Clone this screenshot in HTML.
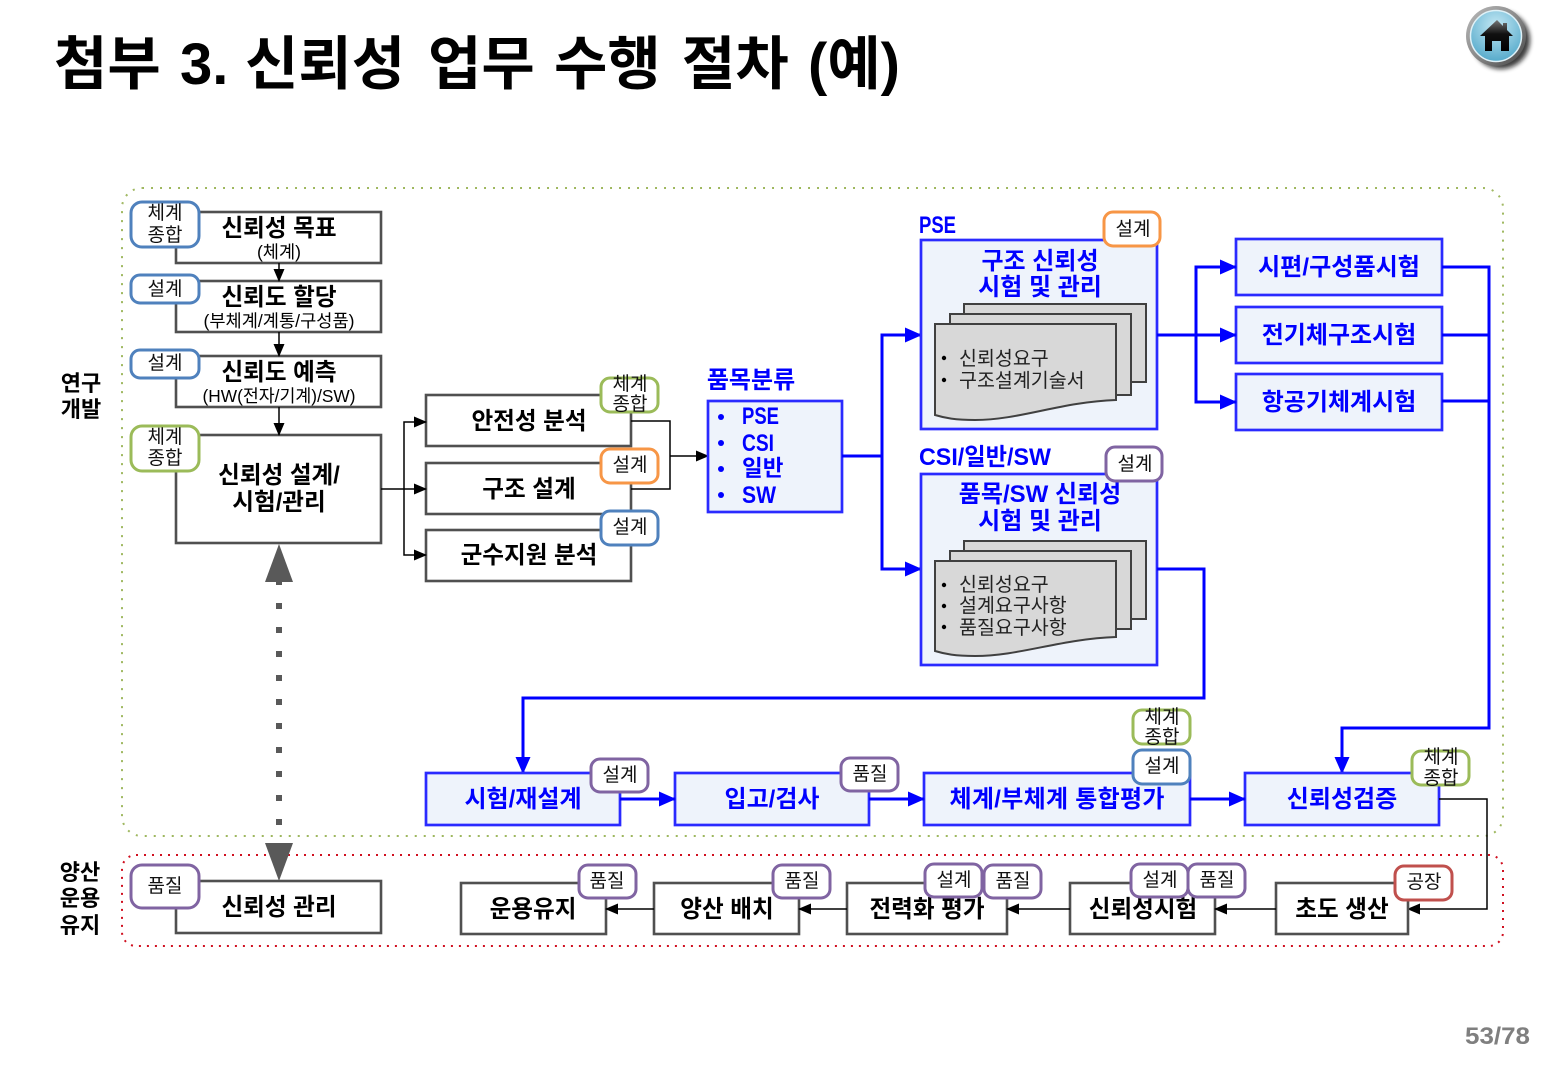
<!DOCTYPE html>
<html lang="ko"><head><meta charset="utf-8"><title>첨부 3</title>
<style>
html,body{margin:0;padding:0;background:#fff}
svg{display:block}
text{font-family:"Liberation Sans","Noto Sans CJK KR",sans-serif;text-anchor:middle;fill:#000}
.b{font-weight:700}
.t{font-size:23.6px;font-weight:700;transform:translateY(1px)}
.s{font-size:17.6px;transform:translateY(1px)}
.bl{fill:#0000ff;font-weight:700;font-size:24px;transform:translateY(1px)}
.tag{font-size:19px;fill:#111}
.box{fill:#fff;stroke:#505050;stroke-width:2.6}
.bbox{fill:#eef3fb;stroke:#2a2aff;stroke-width:2.7}
.doc{fill:#d8d8d8;stroke:#404040;stroke-width:2}
.k{stroke:#000;stroke-width:1.5;fill:none}
.u{stroke:#0000ff;stroke-width:3;fill:none}
.tb{fill:#fff;stroke-width:3}
.d{font-size:19.5px;text-anchor:start;fill:#222;transform:translateY(1px)}
.ttl{font-size:58px;font-weight:700;text-anchor:start}
.st{text-anchor:start}
</style></head><body>
<svg width="1545" height="1070" viewBox="0 0 1545 1070" xmlns="http://www.w3.org/2000/svg">
<defs>
<marker id="ka" markerWidth="13" markerHeight="11" refX="12" refY="5.5" orient="auto" markerUnits="userSpaceOnUse"><path d="M0 0L13 5.5L0 11z" fill="#000"/></marker>
<marker id="ua" markerWidth="17" markerHeight="15" refX="16" refY="7.5" orient="auto" markerUnits="userSpaceOnUse"><path d="M0 0L17 7.5L0 15z" fill="#00f"/></marker>
<radialGradient id="g" cx="50%" cy="30%" r="75%"><stop offset="0" stop-color="#c4e8f4"/><stop offset="1" stop-color="#4ea6c8"/></radialGradient>
<linearGradient id="h" x1="0" y1="0" x2="0" y2="1"><stop offset="0" stop-color="#777"/><stop offset=".45" stop-color="#111"/><stop offset="1" stop-color="#000"/></linearGradient>
<linearGradient id="r" x1="0" y1="0" x2="1" y2="1"><stop offset="0" stop-color="#bbb"/><stop offset=".5" stop-color="#8a8a8a"/><stop offset="1" stop-color="#444"/></linearGradient>
<filter id="bl" x="-30%" y="-30%" width="160%" height="160%"><feGaussianBlur stdDeviation="2.5"/></filter>
</defs>
<text y="84" class="ttl"><tspan x="54">첨부</tspan><tspan x="180">3.</tspan><tspan x="245">신뢰성</tspan><tspan x="428">업무</tspan><tspan x="554">수행</tspan><tspan x="682">절차</tspan><tspan x="808">(예)</tspan></text>

<circle cx="1501" cy="40" r="29" fill="#111" opacity=".8" filter="url(#bl)"/>
<circle cx="1496" cy="36" r="30" fill="url(#r)"/>
<circle cx="1496" cy="36" r="25.5" fill="url(#g)" stroke="#dff1f7" stroke-width="1.5"/>
<path d="M1480 36L1497 20L1503 26V23H1507V30L1513 36H1509V51H1501V41H1492V51H1485V36z" fill="url(#h)"/>

<rect x="122" y="188" width="1381" height="648" rx="20" fill="none" stroke="#9bbb59" stroke-width="2" stroke-dasharray="2 7"/>
<rect x="122" y="188" width="1381" height="648" rx="20" fill="none" stroke="#b8a888" stroke-width="1" stroke-dasharray="1 8" opacity=".6"/>
<rect x="122" y="855" width="1381" height="91" rx="14" fill="none" stroke="#d01020" stroke-width="2" stroke-dasharray="2 6"/>

<text x="81" y="390" class="t" style="font-size:22px">연구</text>
<text x="81" y="416" class="t" style="font-size:22px">개발</text>
<text x="80" y="879" class="t" style="font-size:22px">양산</text>
<text x="80" y="905" class="t" style="font-size:22px">운용</text>
<text x="80" y="932" class="t" style="font-size:22px">유지</text>

<!-- left column -->
<rect x="176" y="212" width="205" height="51" class="box"/>
<text x="279" y="235" class="t">신뢰성 목표</text>
<text x="279" y="257" class="s">(체계)</text>
<rect x="176" y="281" width="205" height="51" class="box"/>
<text x="279" y="304" class="t">신뢰도 할당</text>
<text x="279" y="326" class="s">(부체계/계통/구성품)</text>
<rect x="176" y="356" width="205" height="51" class="box"/>
<text x="279" y="379" class="t">신뢰도 예측</text>
<text x="279" y="401" class="s" textLength="153" lengthAdjust="spacingAndGlyphs">(HW(전자/기계)/SW)</text>
<rect x="176" y="435" width="205" height="108" class="box"/>
<text x="279" y="482" class="t">신뢰성 설계/</text>
<text x="279" y="509" class="t">시험/관리</text>
<path d="M279 263V281" class="k" marker-end="url(#ka)"/>
<path d="M279 332V356" class="k" marker-end="url(#ka)"/>
<path d="M279 407V435" class="k" marker-end="url(#ka)"/>

<!-- dotted double arrow -->
<path d="M279 579V830" stroke="#595959" stroke-width="6" stroke-dasharray="6 18" fill="none"/>
<path d="M279 544L293 582H265z" fill="#595959"/>
<path d="M279 881L265 843H293z" fill="#595959"/>

<!-- middle -->
<rect x="426" y="395" width="205" height="51" class="box"/>
<text x="529" y="428" class="t">안전성 분석</text>
<rect x="426" y="463" width="205" height="51" class="box"/>
<text x="529" y="496" class="t">구조 설계</text>
<rect x="426" y="530" width="205" height="51" class="box"/>
<text x="529" y="562" class="t">군수지원 분석</text>
<path d="M381 489H426" class="k" marker-end="url(#ka)"/>
<path d="M404 489V422H426" class="k" marker-end="url(#ka)"/>
<path d="M404 489V555H426" class="k" marker-end="url(#ka)"/>
<path d="M631 421H670V489H631" class="k"/>
<path d="M670 456H708" class="k" marker-end="url(#ka)"/>

<text x="751" y="387" class="bl">품목분류</text>
<rect x="708" y="401" width="134" height="111" class="bbox"/>
<text x="742" y="423" class="bl st" textLength="37" lengthAdjust="spacingAndGlyphs">PSE</text>
<text x="742" y="450" class="bl st" textLength="32" lengthAdjust="spacingAndGlyphs">CSI</text>
<text x="742" y="475" class="bl st" style="font-size:22.5px">일반</text>
<text x="742" y="502" class="bl st" textLength="34" lengthAdjust="spacingAndGlyphs">SW</text>
<g fill="#00f"><circle cx="721" cy="417" r="3"/><circle cx="721" cy="443" r="3"/><circle cx="721" cy="469" r="3"/><circle cx="721" cy="495" r="3"/></g>

<path d="M842 456H882V335H921" class="u" marker-end="url(#ua)"/>
<path d="M882 456V569H921" class="u" marker-end="url(#ua)"/>

<!-- PSE box -->
<text x="919" y="232" class="bl st" textLength="37" lengthAdjust="spacingAndGlyphs">PSE</text>
<rect x="921" y="240" width="236" height="189" class="bbox"/>
<text x="1040" y="268" class="bl">구조 신뢰성</text>
<text x="1040" y="294" class="bl">시험 및 관리</text>
<rect x="964" y="304" width="182" height="78" class="doc"/>
<rect x="950" y="314" width="181" height="81" class="doc"/>
<path d="M935 324H1116V400C1060 402 1020 420 975 420C955 420 945 418 935 415z" class="doc"/>
<text x="959" y="364" class="d">신뢰성요구</text>
<text x="959" y="386" class="d">구조설계기술서</text>
<circle cx="944" cy="358" r="2.2"/><circle cx="944" cy="380" r="2.2"/>

<!-- CSI box -->
<text x="919" y="464" class="bl st" textLength="132" lengthAdjust="spacingAndGlyphs">CSI/일반/SW</text>
<rect x="921" y="474" width="236" height="191" class="bbox"/>
<text x="1040" y="501" class="bl">품목/SW 신뢰성</text>
<text x="1040" y="528" class="bl">시험 및 관리</text>
<rect x="964" y="541" width="182" height="78" class="doc"/>
<rect x="950" y="551" width="181" height="78" class="doc"/>
<path d="M935 561H1116V637C1060 639 1020 656 975 656C955 656 945 654 935 651z" class="doc"/>
<text x="959" y="590" class="d">신뢰성요구</text>
<text x="959" y="611" class="d">설계요구사항</text>
<text x="959" y="633" class="d">품질요구사항</text>
<circle cx="944" cy="585" r="2.2"/><circle cx="944" cy="606" r="2.2"/><circle cx="944" cy="627" r="2.2"/>

<!-- right test boxes -->
<rect x="1236" y="239" width="206" height="56" class="bbox"/>
<text x="1339" y="274" class="bl" textLength="162" lengthAdjust="spacingAndGlyphs">시편/구성품시험</text>
<rect x="1236" y="307" width="206" height="56" class="bbox"/>
<text x="1339" y="342" class="bl">전기체구조시험</text>
<rect x="1236" y="374" width="206" height="56" class="bbox"/>
<text x="1339" y="409" class="bl">항공기체계시험</text>
<path d="M1157 335H1236" class="u" marker-end="url(#ua)"/>
<path d="M1196 335V267H1236" class="u" marker-end="url(#ua)"/>
<path d="M1196 335V402H1236" class="u" marker-end="url(#ua)"/>
<path d="M1442 267H1489V728H1342V773" class="u" marker-end="url(#ua)"/>
<path d="M1442 335H1489" class="u"/>
<path d="M1442 401H1489" class="u"/>
<path d="M1157 569H1204V698H523V773" class="u" marker-end="url(#ua)"/>

<!-- blue bottom row -->
<rect x="426" y="773" width="194" height="52" class="bbox"/>
<text x="523" y="806" class="bl">시험/재설계</text>
<rect x="675" y="773" width="194" height="52" class="bbox"/>
<text x="772" y="806" class="bl">입고/검사</text>
<rect x="924" y="773" width="266" height="52" class="bbox"/>
<text x="1057" y="806" class="bl" textLength="215" lengthAdjust="spacing">체계/부체계 통합평가</text>
<rect x="1245" y="773" width="194" height="52" class="bbox"/>
<text x="1342" y="806" class="bl">신뢰성검증</text>
<path d="M620 799H675" class="u" marker-end="url(#ua)"/>
<path d="M869 799H924" class="u" marker-end="url(#ua)"/>
<path d="M1190 799H1245" class="u" marker-end="url(#ua)"/>
<path d="M1439 799H1487V909H1408" class="k" marker-end="url(#ka)"/>

<!-- production row -->
<rect x="176" y="881" width="205" height="52" class="box"/>
<text x="279" y="914" class="t">신뢰성 관리</text>
<rect x="461" y="883" width="145" height="51" class="box"/>
<text x="533" y="916" class="t">운용유지</text>
<rect x="654" y="883" width="145" height="51" class="box"/>
<text x="727" y="916" class="t">양산 배치</text>
<rect x="847" y="883" width="160" height="51" class="box"/>
<text x="927" y="916" class="t">전력화 평가</text>
<rect x="1070" y="883" width="145" height="51" class="box"/>
<text x="1143" y="916" class="t">신뢰성시험</text>
<rect x="1276" y="883" width="132" height="51" class="box"/>
<text x="1342" y="916" class="t">초도 생산</text>
<path d="M1276 909H1215" class="k" marker-end="url(#ka)"/>
<path d="M1070 909H1007" class="k" marker-end="url(#ka)"/>
<path d="M847 909H799" class="k" marker-end="url(#ka)"/>
<path d="M654 909H606" class="k" marker-end="url(#ka)"/>

<!-- tags -->
<g class="tags">
<rect x="131" y="202" width="68" height="45" rx="11" class="tb" stroke="#4f81bd"/>
<text x="165" y="219" class="tag">체계</text><text x="165" y="241" class="tag">종합</text>
<rect x="131" y="275" width="68" height="28" rx="9" class="tb" stroke="#4f81bd"/>
<text x="165" y="295" class="tag">설계</text>
<rect x="131" y="350" width="68" height="28" rx="9" class="tb" stroke="#4f81bd"/>
<text x="165" y="369" class="tag">설계</text>
<rect x="131" y="426" width="68" height="45" rx="11" class="tb" stroke="#9bbb59"/>
<text x="165" y="443" class="tag">체계</text><text x="165" y="464" class="tag">종합</text>
<rect x="131" y="865" width="68" height="43" rx="11" class="tb" stroke="#8064a2"/>
<text x="165" y="892" class="tag">품질</text>

<rect x="601" y="378" width="57" height="34" rx="9" class="tb" stroke="#9bbb59"/>
<text x="630" y="390" class="tag">체계</text><text x="630" y="410" class="tag">종합</text>
<rect x="601" y="449" width="57" height="34" rx="9" class="tb" stroke="#f79646"/>
<text x="630" y="471" class="tag">설계</text>
<rect x="601" y="511" width="57" height="34" rx="9" class="tb" stroke="#4f81bd"/>
<text x="630" y="533" class="tag">설계</text>

<rect x="1104" y="212" width="56" height="34" rx="9" class="tb" stroke="#f79646"/>
<text x="1133" y="235" class="tag">설계</text>
<rect x="1106" y="447" width="56" height="34" rx="9" class="tb" stroke="#8064a2"/>
<text x="1135" y="470" class="tag">설계</text>

<rect x="591" y="759" width="57" height="33" rx="9" class="tb" stroke="#8064a2"/>
<text x="620" y="781" class="tag">설계</text>
<rect x="841" y="758" width="57" height="33" rx="9" class="tb" stroke="#8064a2"/>
<text x="870" y="780" class="tag">품질</text>
<rect x="1133" y="710" width="57" height="34" rx="9" class="tb" stroke="#9bbb59"/>
<text x="1162" y="723" class="tag">체계</text><text x="1162" y="743" class="tag">종합</text>
<rect x="1133" y="750" width="57" height="34" rx="9" class="tb" stroke="#4f81bd"/>
<text x="1162" y="772" class="tag">설계</text>
<rect x="1412" y="751" width="57" height="34" rx="9" class="tb" stroke="#9bbb59"/>
<text x="1441" y="763" class="tag">체계</text><text x="1441" y="784" class="tag">종합</text>

<rect x="579" y="865" width="57" height="33" rx="9" class="tb" stroke="#8064a2"/>
<text x="607" y="887" class="tag">품질</text>
<rect x="773" y="865" width="57" height="33" rx="9" class="tb" stroke="#8064a2"/>
<text x="802" y="887" class="tag">품질</text>
<rect x="925" y="864" width="57" height="33" rx="9" class="tb" stroke="#8064a2"/>
<text x="954" y="886" class="tag">설계</text>
<rect x="984" y="865" width="57" height="33" rx="9" class="tb" stroke="#8064a2"/>
<text x="1013" y="887" class="tag">품질</text>
<rect x="1131" y="864" width="57" height="33" rx="9" class="tb" stroke="#8064a2"/>
<text x="1160" y="886" class="tag">설계</text>
<rect x="1188" y="864" width="57" height="33" rx="9" class="tb" stroke="#8064a2"/>
<text x="1217" y="886" class="tag">품질</text>
<rect x="1395" y="866" width="57" height="34" rx="9" class="tb" stroke="#c0504d"/>
<text x="1424" y="888" class="tag">공장</text>
</g>

<text x="1497.5" y="1044" class="b" style="font-size:24px;fill:#7f7f7f" textLength="65" lengthAdjust="spacingAndGlyphs">53/78</text>
</svg>
</body></html>
